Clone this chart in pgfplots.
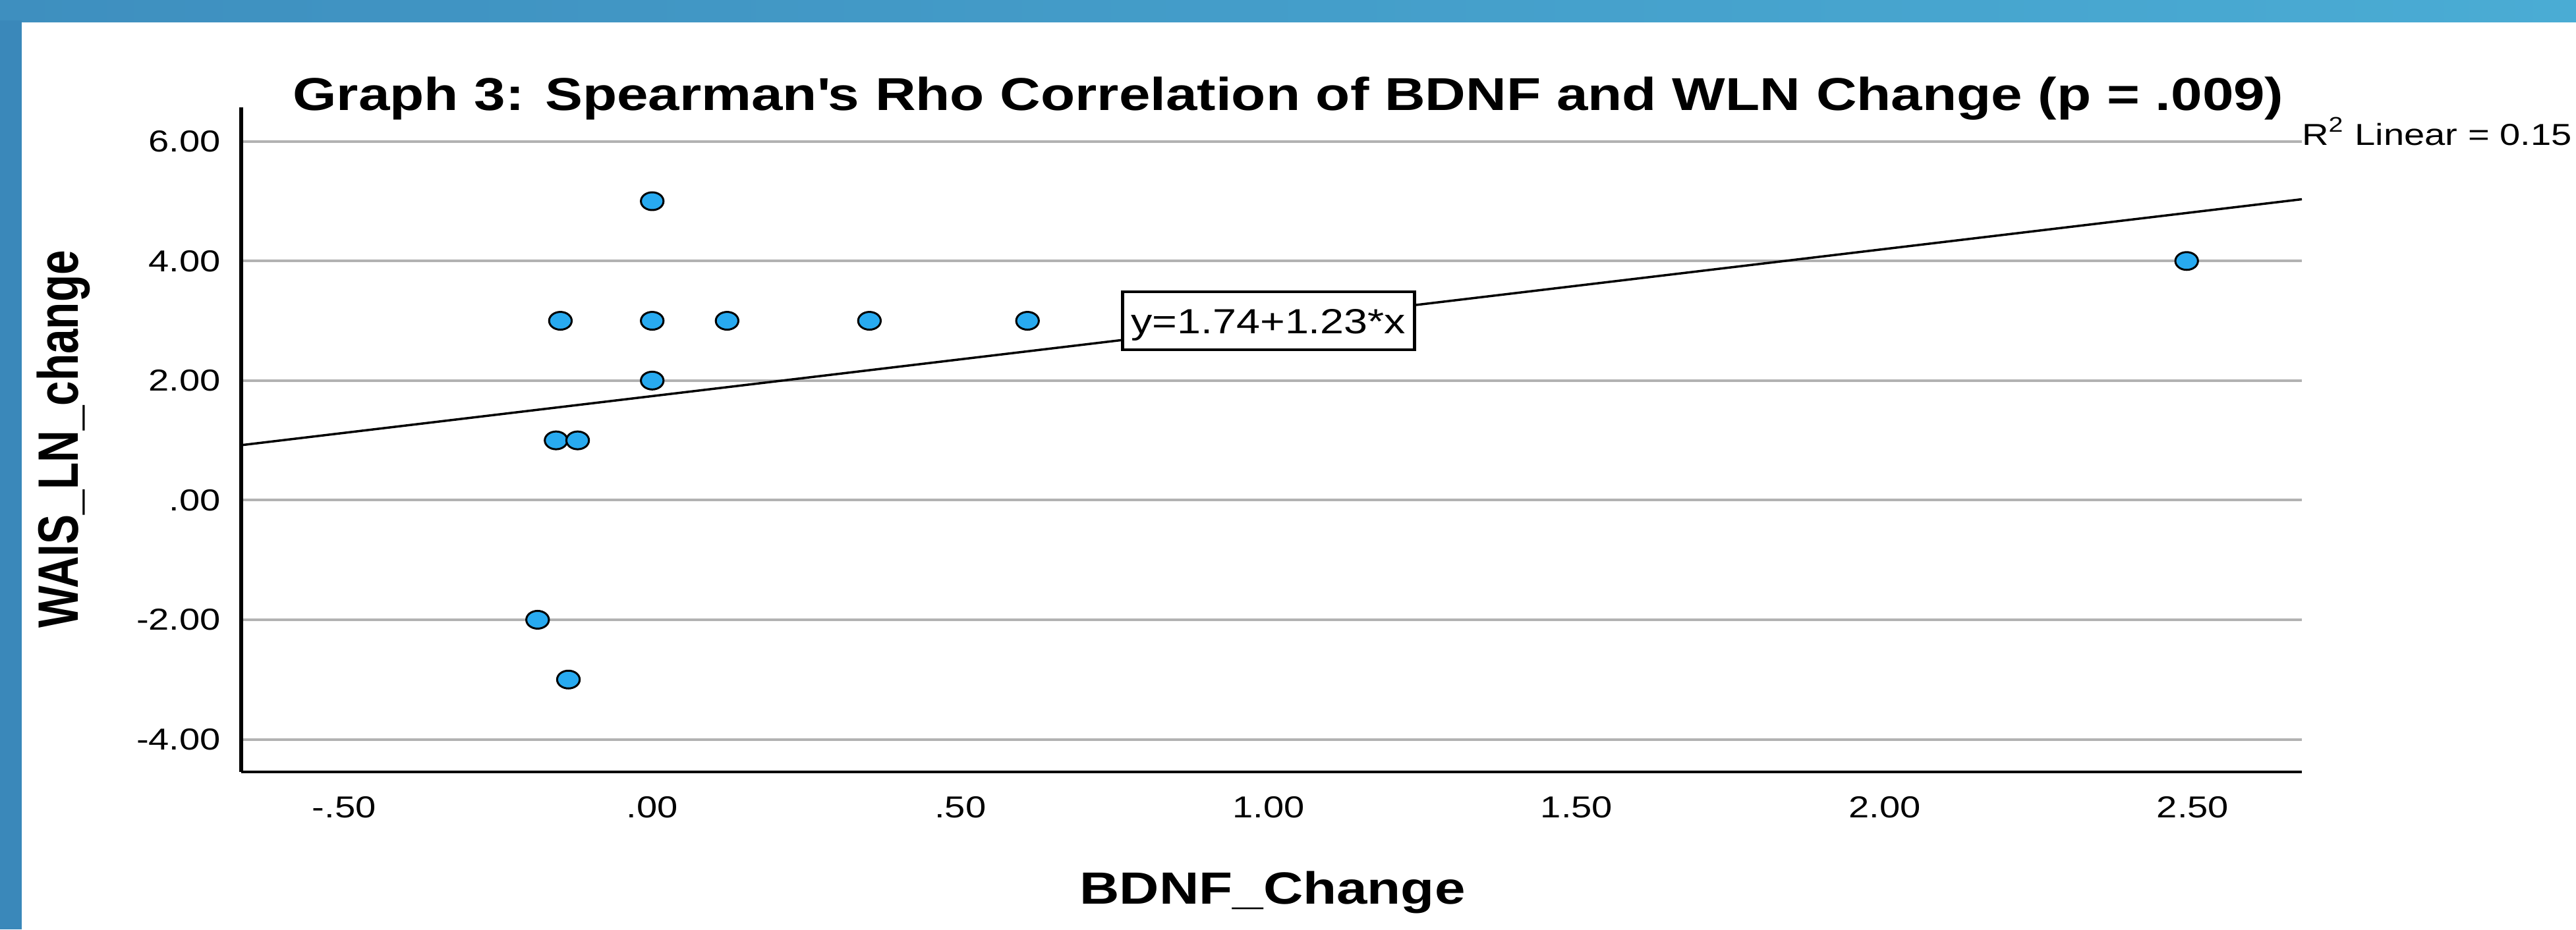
\documentclass[border=0pt]{standalone}
\usepackage{fontspec}
\setmainfont{Liberation Sans}[FakeStretch=1.22]
\newfontfamily\plainfont{Liberation Sans}
\usepackage{pgfplots}
\pgfplotsset{compat=1.18}
\definecolor{bandL}{RGB}{62,143,191}
\definecolor{bandR}{RGB}{74,172,212}
\definecolor{bandV}{RGB}{58,136,186}
\definecolor{gridgray}{RGB}{178,178,178}
\definecolor{markblue}{RGB}{40,170,240}
\begin{document}
\begin{tikzpicture}
\useasboundingbox (0,0) rectangle (781.8pt,282.2pt);
\fill[white] (0,0) rectangle (781.8pt,282.2pt);
\shade[left color=bandL, right color=bandR] (0,275.6pt) rectangle (781.8pt,282.2pt);
\fill[bandV] (0,0) rectangle (6.6pt,276pt);
\begin{axis}[
  at={(73.2pt,47.8pt)}, anchor=south west,
  scale only axis, width=625.4pt, height=201.8pt,
  xmin=-0.667, xmax=2.677, ymin=-4.545, ymax=6.57,
  axis lines=left,
  x axis line style={line width=0.9pt,-},
  y axis line style={line width=1.2pt,-},
  xtick={-0.5,0,0.5,1,1.5,2,2.5},
  xticklabels={-.50,.00,.50,1.00,1.50,2.00,2.50},
  ytick={-4,-2,0,2,4,6},
  yticklabels={-4.00,-2.00,.00,2.00,4.00,6.00},
  major tick length=0pt,
  ymajorgrids,
  grid style={color=gridgray, line width=0.8pt},
  tick label style={font=\fontsize{9.2}{11}\selectfont, inner sep=0pt},
  xticklabel style={yshift=-7.2pt},
  yticklabel style={xshift=-6pt},
]
\addplot[black, line width=0.7pt] coordinates {(-0.667,0.92) (2.677,5.033)};
\node[draw=black, line width=0.9pt, fill=white, inner sep=0pt,
      minimum width=88.6pt, minimum height=17.6pt,
      text height=7.6pt, text depth=0pt,
      font=\fontsize{10.6}{12}\selectfont] at (axis cs:1.0,3.0) {y=1.74+1.23*x};
\addplot[only marks, mark=*, mark size=2.7pt,
  mark options={xscale=1.27, fill=markblue, draw=black, line width=0.6pt}]
  coordinates {
  (0,5) (-0.149,3) (0,3) (0.1215,3) (0.3525,3) (0.609,3) (0,2)
  (-0.156,1) (-0.121,1) (-0.186,-2) (-0.136,-3) (2.49,4)
  };
\end{axis}
\node[anchor=base, inner sep=0pt, font=\bfseries\fontsize{14}{16}\selectfont]
  at (391pt,248.8pt) {Graph 3: Spearman\textquotesingle s Rho Correlation of BDNF and WLN Change (p = .009)};
\node[anchor=base, inner sep=0pt, font=\bfseries\fontsize{13.7}{16}\selectfont]
  at (386.2pt,7.8pt) {BDNF\_Change};
\node[anchor=base, inner sep=0pt, rotate=90]
  at (23.6pt,148.8pt) {\scalebox{1}[1.28]{\plainfont\bfseries\fontsize{13.5}{16}\selectfont WAIS\_LN\_change}};
\node[anchor=base west, inner sep=0pt, font=\fontsize{9.2}{11}\selectfont]
  at (698.4pt,238.2pt) {R\textsuperscript{2} Linear = 0.15};
\end{tikzpicture}
\end{document}
